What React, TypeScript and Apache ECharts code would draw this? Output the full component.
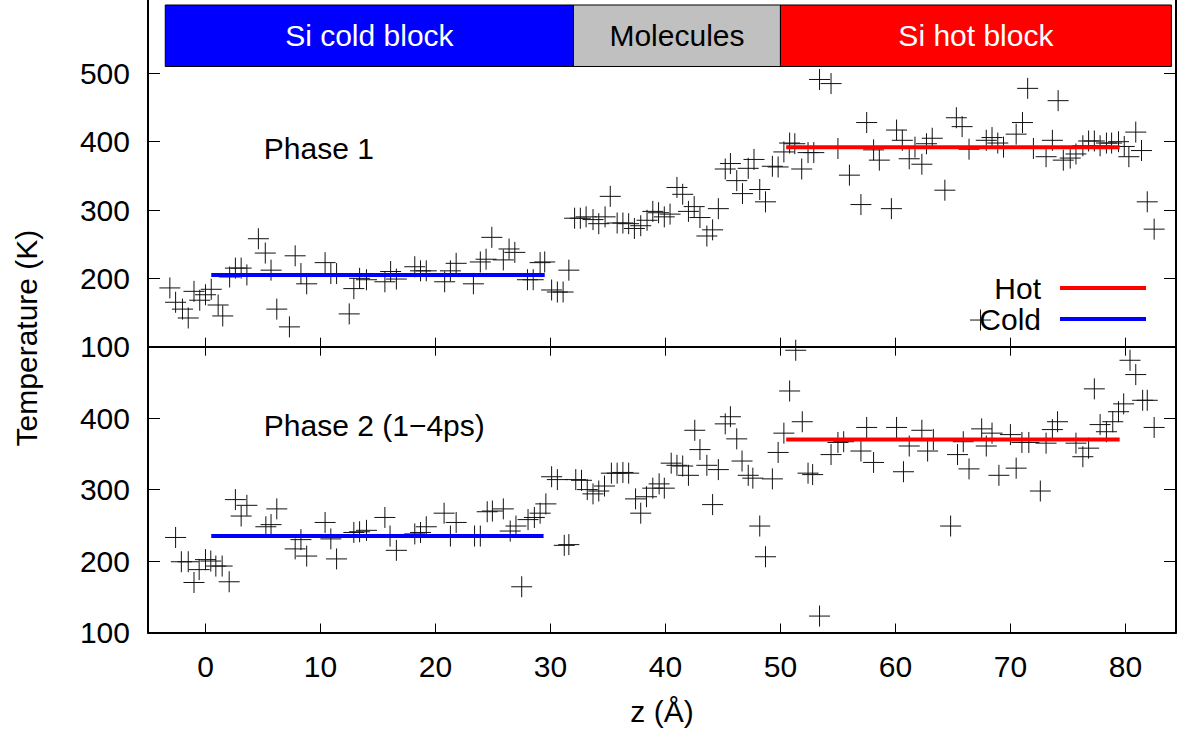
import React, { useEffect, useRef } from "react";
import * as echarts from "echarts";

// ---------- data ----------
const zTicks = [0, 10, 20, 30, 40, 50, 60, 70, 80];
const topTempTicks = [100, 200, 300, 400, 500];
const bottomTempTicks = [100, 200, 300, 400];

// Phase 1 (top panel)
const phase1Z = [
  -3.1, -2.6, -2.0, -1.5, -1.0, -0.5, 0.0, 0.5, 1.1, 1.5, 2.1, 2.6, 3.1, 3.6, 4.6, 5.2, 5.7, 6.2, 7.3, 7.8,
  8.3, 8.8, 10.4, 10.9, 11.4, 12.5, 12.9, 13.4, 14.0, 15.6, 16.1, 16.6, 18.2, 18.7, 19.2, 20.8, 21.3, 21.8, 23.3, 23.9,
  24.4, 24.9, 25.9, 26.4, 26.9, 28.0, 28.5, 29.1, 29.5, 30.1, 30.6, 31.1, 31.6, 32.1, 32.6, 33.1, 33.7, 34.2, 34.75, 35.2,
  35.8, 36.3, 36.8, 37.3, 37.85, 38.4, 38.9, 39.4, 39.9, 40.4, 41.0, 41.5, 42.0, 42.5, 43.0, 43.6, 44.1, 44.6, 45.2, 45.65,
  46.2, 46.7, 47.2, 47.7, 48.2, 48.7, 49.3, 49.8, 50.3, 50.8, 51.25, 51.85, 52.4, 52.9, 53.4, 54.4, 55.0, 56.0, 57.0, 57.5,
  58.1, 58.6, 59.65, 60.1, 60.6, 61.2, 61.7, 62.3, 62.7, 63.2, 64.3, 65.3, 65.8, 66.4, 67.4, 67.9, 68.4, 68.9, 69.4, 70.5,
  71.05, 71.5, 72.0, 73.1, 73.65, 74.15, 74.6, 75.2, 75.7, 76.3, 76.8, 77.3, 77.8, 78.35, 78.8, 79.4, 79.9, 80.3, 80.9, 81.4,
  81.9, 82.5,
];
const phase1T = [
  186, 165, 155, 142, 181, 168, 176, 184, 161, 145, 202, 215, 215, 205, 258, 237, 212, 155, 129, 233,
  207, 192, 223, 207, 207, 148, 185, 200, 198, 195, 210, 199, 217, 211, 211, 195, 211, 222, 192, 224,
  228, 260, 227, 243, 238, 198, 198, 223, 224, 183, 180, 180, 212, 288, 288, 290, 286, 280, 290, 320,
  281, 281, 280, 273, 277, 285, 298, 296, 290, 294, 333, 323, 298, 305, 289, 262, 271, 302, 360, 368,
  343, 324, 361, 374, 330, 312, 364, 363, 385, 398, 397, 360, 384, 384, 491, 485, 390, 351, 308, 428,
  388, 373, 302, 417, 402, 375, 392, 367, 397, 405, 329, 435, 422, 389, 139, 402, 406, 398, 392, 411,
  428, 478, 390, 378, 402, 460, 373, 376, 382, 394, 401, 401, 394, 398, 398, 400, 393, 378, 414, 387,
  312, 272,
];

// Phase 2 (bottom panel)
const phase2Z = [
  -2.6, -2.1, -1.5, -1.0, -0.55, 0.0, 0.46, 0.9, 1.45, 2.06, 2.6, 3.1, 3.6, 5.25, 5.7, 6.2, 7.8, 8.3, 8.8, 10.4,
  10.9, 11.4, 12.9, 13.4, 14.0, 15.6, 16.05, 16.6, 18.2, 18.7, 19.2, 20.75, 21.3, 21.8, 23.4, 23.9, 24.5, 24.95, 25.9, 26.5,
  27.0, 27.5, 28.05, 28.6, 29.1, 29.6, 30.1, 30.6, 31.2, 31.6, 32.2, 32.7, 33.2, 33.7, 34.2, 34.7, 35.3, 35.8, 36.3, 36.8,
  37.4, 37.85, 38.35, 38.9, 39.45, 39.9, 40.5, 41.0, 41.5, 42.0, 42.55, 43.0, 43.6, 44.1, 44.6, 45.2, 45.65, 46.2, 46.66, 47.2,
  47.6, 48.2, 48.7, 49.3, 49.8, 50.3, 50.8, 51.33, 51.9, 52.4, 52.8, 53.4, 54.4, 55.0, 55.5, 57.0, 57.5, 58.1, 60.1, 60.7,
  61.2, 62.3, 62.8, 63.3, 64.8, 65.4, 65.9, 66.4, 67.5, 67.9, 68.4, 69.0, 70.0, 70.5, 71.0, 71.6, 72.6, 73.1, 73.65, 74.1,
  75.7, 76.3, 76.8, 77.3, 77.8, 78.35, 78.9, 79.4, 79.85, 80.4, 80.9, 81.5, 81.9, 82.5,
];
const phase2T = [
  233, 199, 199, 170, 188, 202, 200, 193, 193, 171, 286, 263, 278, 248, 251, 273, 217, 230, 207, 254,
  231, 203, 240, 241, 243, 261, 235, 215, 238, 240, 248, 267, 235, 254, 235, 235, 269, 270, 273, 242,
  249, 164, 258, 261, 267, 280, 318, 314, 222, 223, 314, 313, 300, 294, 298, 305, 323, 323, 324, 323,
  287, 267, 290, 302, 308, 302, 337, 334, 333, 320, 383, 356, 334, 279, 328, 392, 402, 371, 340, 320,
  316, 249, 206, 315, 352, 379, 438, 495, 395, 323, 321, 123, 349, 366, 367, 354, 387, 338, 387, 325,
  361, 383, 354, 370, 249, 349, 367, 329, 385, 361, 379, 320, 377, 330, 366, 366, 298, 365, 384, 395,
  365, 346, 358, 441, 391, 381, 395, 409, 420, 481, 461, 425, 425, 387,
];

// Average temperature lines: [top panel, bottom panel]
const coldStart = [0.5, 0.5];
const coldEnd = [29.5, 29.4];
const coldLevel = [205, 235];
const hotStart = [50.5, 50.5];
const hotEnd = [79.5, 79.5];
const hotLevel = [392, 370];

// Region blocks at the top of panel 1
const blockNames = ["Si cold block", "Molecules", "Si hot block"];
const blockStart = [-3.5, 32, 50];
const blockEnd = [32, 50, 84];
const blockColors = ["#0000ff", "#c0c0c0", "#ff0000"];
const blockTextColors = ["#ffffff", "#000000", "#ffffff"];
const blockLow = 510;
const blockHigh = 600;

// Panel annotations
const phaseLabels = ["Phase 1", "Phase 2 (1\u22124ps)"];
const phaseLabelZ = [5.07, 5.07];
const phaseLabelT = [390, 390];

const FONT = "'Liberation Sans', Arial, Helvetica, sans-serif";
const FS = 30;

export default function App() {
  const ref = useRef<HTMLDivElement>(null);

  useEffect(() => {
    if (!ref.current) return;
    const chart = echarts.init(ref.current, null, { renderer: "svg" });

    const cross = "path://M10,0L10,20M0,10L20,10";
    const zip = (a: number[], b: number[]) => a.map((v, i) => [v, b[i]]);

    const xBase = (gridIndex: number, showLabels: boolean, position: "top" | "bottom") => ({
      type: "value",
      gridIndex,
      position,
      min: -5,
      max: 84.4,
      axisLine: { show: true, onZero: false, lineStyle: { color: "#000", width: 2 } },
      axisTick: {
        show: true,
        inside: true,
        length: 9,
        customValues: zTicks,
        lineStyle: { color: "#000", width: 1 },
      },
      axisLabel: {
        show: showLabels,
        customValues: zTicks,
        margin: 19,
        color: "#000",
        fontSize: FS,
        fontFamily: FONT,
      },
      splitLine: { show: false },
    });

    const yBase = (
      gridIndex: number,
      position: "left" | "right",
      min: number,
      max: number,
      ticks: number[],
      showLabels: boolean
    ) => ({
      type: "value",
      gridIndex,
      position,
      min,
      max,
      axisLine: { show: true, onZero: false, lineStyle: { color: "#000", width: 2 } },
      axisTick: {
        show: true,
        inside: true,
        length: 12,
        customValues: ticks,
        lineStyle: { color: "#000", width: 1 },
      },
      axisLabel: {
        show: showLabels,
        customValues: ticks,
        margin: 18,
        color: "#000",
        fontSize: FS,
        fontFamily: FONT,
      },
      splitLine: { show: false },
    });

    const xAxis: any[] = [
      xBase(0, false, "bottom"),
      {
        ...xBase(1, true, "bottom"),
        name: "z (\u00c5)",
        nameLocation: "middle",
        nameGap: 64,
        nameTextStyle: { color: "#000", fontSize: FS, fontFamily: FONT },
      },
      xBase(1, false, "top"),
    ];
    const yAxis: any[] = [
      yBase(0, "left", 100, 607.3, topTempTicks, true),
      yBase(0, "right", 100, 607.3, topTempTicks, false),
      yBase(1, "left", 100, 500, bottomTempTicks, true),
      yBase(1, "right", 100, 500, bottomTempTicks, false),
    ];

    const scatter = (xi: number, yi: number, z: number[], t: number[]) => ({
      type: "scatter",
      xAxisIndex: xi,
      yAxisIndex: yi,
      data: zip(z, t),
      symbol: cross,
      symbolSize: 21,
      silent: true,
      itemStyle: { color: "rgba(0,0,0,0)", borderColor: "#111", borderWidth: 1, opacity: 1 },
      z: 3,
    });

    const avgLine = (name: string, color: string, xi: number, yi: number, s: number, e: number, lvl: number) => ({
      type: "line",
      name,
      xAxisIndex: xi,
      yAxisIndex: yi,
      data: [
        [s, lvl],
        [e, lvl],
      ],
      showSymbol: false,
      symbol: "none",
      silent: true,
      color,
      lineStyle: { color, width: 4 },
      z: 4,
    });

    const phaseLabelSeries = (xi: number, yi: number, i: number) => ({
      type: "scatter",
      xAxisIndex: xi,
      yAxisIndex: yi,
      symbolSize: 0,
      silent: true,
      itemStyle: { opacity: 1 },
      data: [{ value: [phaseLabelZ[i], phaseLabelT[i]], name: phaseLabels[i] }],
      label: {
        show: true,
        position: "right",
        distance: 0,
        formatter: phaseLabels[i],
        color: "#000",
        opacity: 1,
        fontSize: FS,
        fontFamily: FONT,
      },
    });

    const blocksSeries = {
      type: "custom",
      xAxisIndex: 0,
      yAxisIndex: 0,
      silent: true,
      data: blockStart.map((s, i) => [s, blockEnd[i]]),
      encode: { x: [0, 1] },
      renderItem: (params: any, api: any) => {
        const i = params.dataIndex;
        const p0 = api.coord([api.value(0), blockHigh]);
        const p1 = api.coord([api.value(1), blockLow]);
        return {
          type: "rect",
          shape: { x: p0[0], y: p0[1], width: p1[0] - p0[0], height: p1[1] - p0[1] },
          style: { fill: blockColors[i], stroke: "#000", lineWidth: 1 },
          textContent: {
            style: {
              text: blockNames[i],
              fill: blockTextColors[i],
              fontSize: FS,
              fontFamily: FONT,
            },
          },
          textConfig: { position: "inside" },
        };
      },
      z: 5,
    };

    const option: any = {
      animation: false,
      backgroundColor: "#ffffff",
      grid: [
        { left: 148, right: 2, top: 0, height: 346.7 },
        { left: 148, right: 2, top: 346.7, height: 285.8 },
      ],
      xAxis,
      yAxis,
      legend: {
        data: ["Hot", "Cold"],
        orient: "vertical",
        align: "right",
        right: 32,
        top: 273,
        padding: 0,
        itemGap: 1,
        itemWidth: 86,
        itemHeight: 4,
        icon: "rect",
        selectedMode: false,
        textStyle: { color: "#000", fontSize: FS, fontFamily: FONT, padding: [0, 14, 0, 0] },
      },
      graphic: [
        {
          type: "text",
          x: 26,
          y: 338,
          rotation: Math.PI / 2,
          style: {
            text: "Temperature (K)",
            fill: "#000",
            font: `${FS}px ${FONT}`,
            align: "center",
            verticalAlign: "middle",
          },
        },
      ],
      series: [
        blocksSeries,
        scatter(0, 0, phase1Z, phase1T),
        scatter(1, 2, phase2Z, phase2T),
        avgLine("Hot", "#ff0000", 0, 0, hotStart[0], hotEnd[0], hotLevel[0]),
        avgLine("Cold", "#0000ff", 0, 0, coldStart[0], coldEnd[0], coldLevel[0]),
        avgLine("Hot", "#ff0000", 1, 2, hotStart[1], hotEnd[1], hotLevel[1]),
        avgLine("Cold", "#0000ff", 1, 2, coldStart[1], coldEnd[1], coldLevel[1]),
        phaseLabelSeries(0, 0, 0),
        phaseLabelSeries(1, 2, 1),
      ],
    };

    chart.setOption(option);
    return () => chart.dispose();
  }, []);

  return (
    <div
      ref={ref}
      style={{ position: "fixed", left: 0, top: 0, width: 1178, height: 733, background: "#fff" }}
    />
  );
}
